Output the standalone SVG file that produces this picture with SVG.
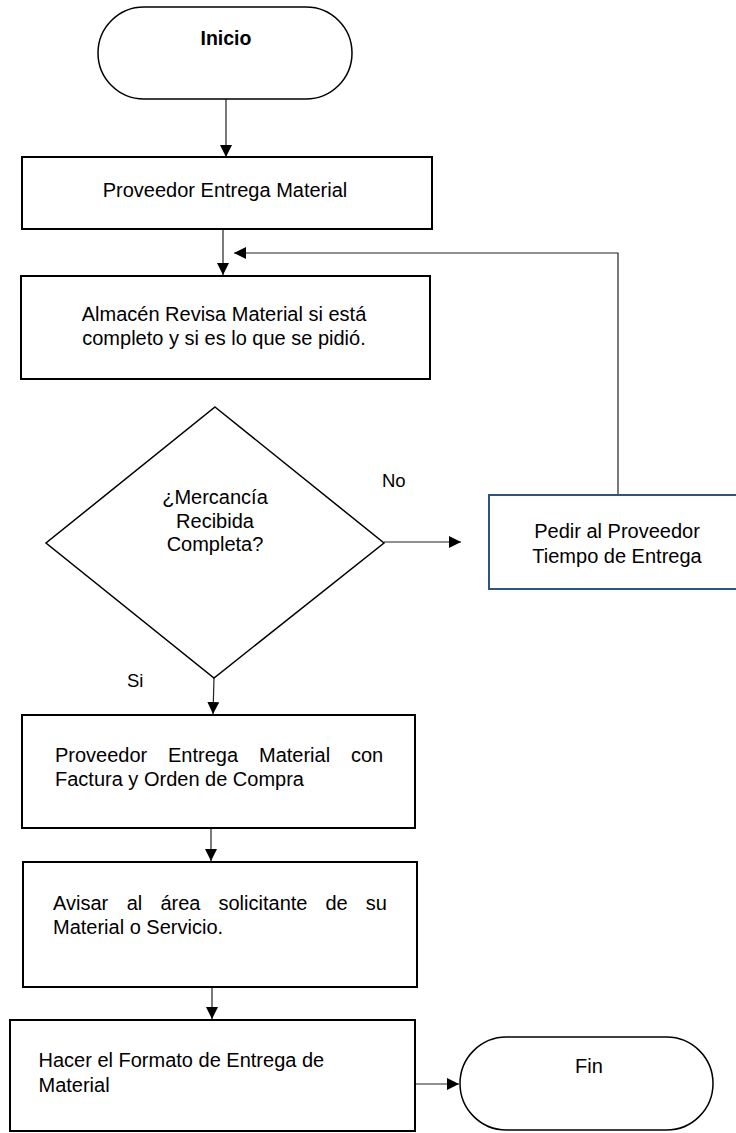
<svg xmlns="http://www.w3.org/2000/svg" width="736" height="1133" viewBox="0 0 736 1133">
<defs>
<marker id="ah" markerUnits="userSpaceOnUse" markerWidth="12" markerHeight="12" refX="12" refY="6" orient="auto">
<path d="M0,0 L12,6 L0,12 Z" fill="#000"/>
</marker>
<style>
.box{fill:#fff;stroke:#000;stroke-width:2}
.blue{fill:#fff;stroke:#2b5580;stroke-width:2}
.term{fill:#fff;stroke:#000;stroke-width:1.5}
.con{fill:none;stroke:#222;stroke-width:1.2}
.arr{marker-end:url(#ah)}
text{font-family:"Liberation Sans",Arial,sans-serif;font-size:20px;fill:#000}
.c{text-anchor:middle}
.b{font-weight:bold;font-size:19.5px}
</style>
</defs>
<rect width="736" height="1133" fill="#fff"/>
<g id="connectors">
<line class="con arr" x1="226" y1="99" x2="226" y2="157"/>
<line class="con arr" x1="223" y1="229" x2="223" y2="275"/>
<polyline class="con arr" points="618,495 618,253 234,253"/>
<line class="con arr" x1="384" y1="542" x2="461" y2="542"/>
<line class="con arr" x1="214" y1="678" x2="213" y2="714"/>
<line class="con arr" x1="211" y1="828" x2="211" y2="861"/>
<line class="con arr" x1="212" y1="987" x2="212" y2="1019"/>
<line class="con arr" x1="415" y1="1084" x2="459" y2="1084"/>
</g>
<g id="inicio">
<rect class="term" x="98" y="7" width="254" height="92" rx="46" ry="46"/>
<text class="c b" x="226" y="45">Inicio</text>
</g>
<g id="n1">
<rect class="box" x="22" y="157" width="410" height="72"/>
<text class="c" x="225" y="197">Proveedor Entrega Material</text>
</g>
<g id="n2">
<rect class="box" x="21" y="276" width="409" height="103"/>
<text class="c" x="224" y="321">Almacén Revisa Material si está</text>
<text class="c" x="224" y="345">completo y si es lo que se pidió.</text>
</g>
<g id="decision">
<polygon class="box" points="215,407 384,543 214,678 46,543" style="stroke-width:1.5"/>
<text class="c" x="215" y="504">¿Mercancía</text>
<text class="c" x="215" y="528">Recibida</text>
<text class="c" x="215" y="551">Completa?</text>
</g>
<g id="labels">
<text x="382" y="487" style="font-size:18.5px">No</text>
<text x="127" y="687" style="font-size:18.5px">Si</text>
</g>
<g id="n3">
<rect class="blue" x="489" y="495" width="250" height="94"/>
<text class="c" x="617" y="538">Pedir al Proveedor</text>
<text class="c" x="617" y="563">Tiempo de Entrega</text>
</g>
<g id="n4">
<rect class="box" x="22" y="715" width="393" height="113"/>
<text y="762"><tspan x="55">Proveedor</tspan><tspan x="168">Entrega</tspan><tspan x="259">Material</tspan><tspan x="351">con</tspan></text>
<text x="55" y="786">Factura y Orden de Compra</text>
</g>
<g id="n5">
<rect class="box" x="23" y="862" width="394" height="125"/>
<text y="910"><tspan x="53">Avisar</tspan><tspan x="126.7">al</tspan><tspan x="160.4">área</tspan><tspan x="218.5">solicitante</tspan><tspan x="325.5">de</tspan><tspan x="365.8">su</tspan></text>
<text x="53" y="934">Material o Servicio.</text>
</g>
<g id="n6">
<rect class="box" x="10" y="1020" width="405" height="111"/>
<text x="38.5" y="1067">Hacer el Formato de Entrega de</text>
<text x="38.5" y="1092">Material</text>
</g>
<g id="fin">
<rect class="term" x="460" y="1037" width="253" height="93" rx="46.5" ry="46.5"/>
<text class="c" x="589" y="1073">Fin</text>
</g>
</svg>
